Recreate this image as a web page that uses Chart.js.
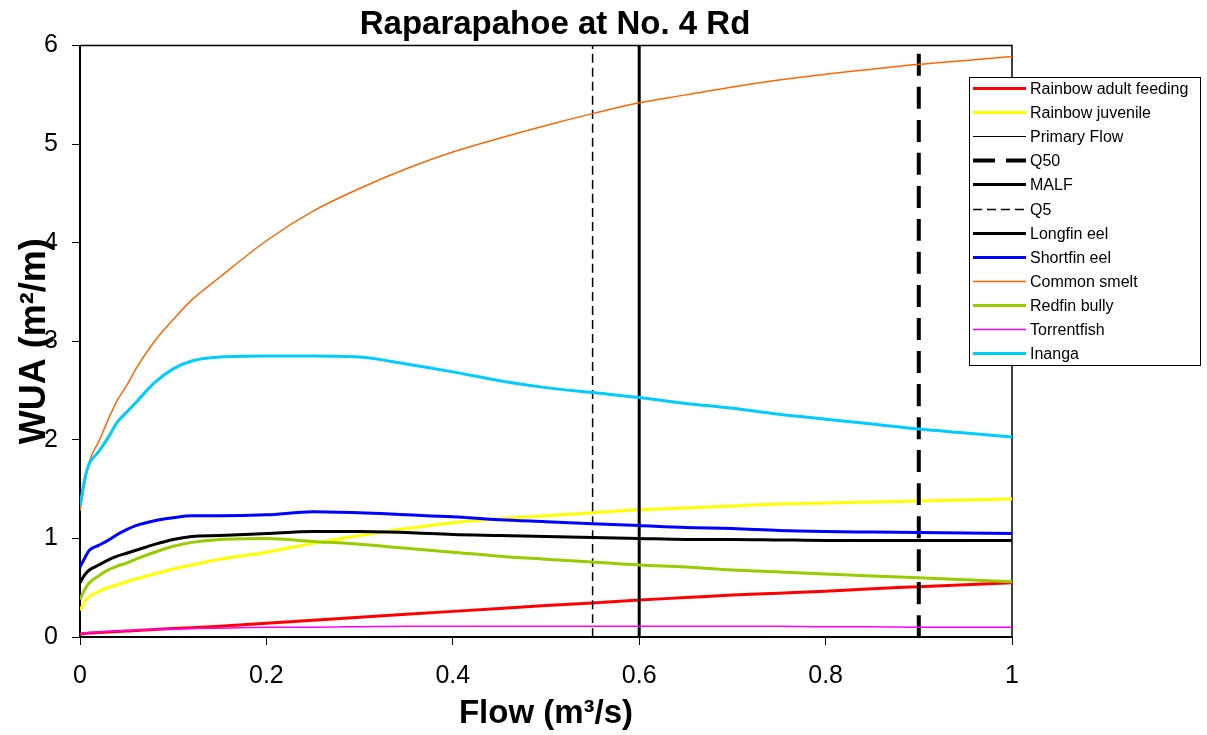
<!DOCTYPE html>
<html lang="en">
<head>
<meta charset="UTF-8">
<title>Raparapahoe at No. 4 Rd</title>
<script src="https://cdn.jsdelivr.net/npm/chart.js@4.4.1/dist/chart.umd.min.js"></script>
<style>
  html, body { margin: 0; padding: 0; background: #fff; }
  #wrap { width: 1207px; height: 735px; }
</style>
</head>
<body>
<div id="wrap"><canvas id="chartWua" width="1207" height="735"></canvas></div>
<script>
    // Flow values (m3/s) that every habitat curve is sampled at
    var flow = [0, 0.005, 0.01, 0.02, 0.03, 0.04, 0.05, 0.06, 0.08, 0.1, 0.12, 0.15, 0.2, 0.25, 0.3,
        0.35, 0.4, 0.45, 0.5, 0.55, 0.6, 0.65, 0.7, 0.75, 0.8, 0.85, 0.9, 0.95, 1.0];

    // WUA (m2/m) per species
    var rainbowAdult = [0.03, 0.035, 0.04, 0.045, 0.05, 0.055, 0.06, 0.065, 0.075, 0.085, 0.095, 0.11, 0.14, 0.17, 0.2,
        0.23, 0.26, 0.29, 0.32, 0.345, 0.375, 0.4, 0.425, 0.445, 0.465, 0.49, 0.51, 0.53, 0.55];
    var rainbowJuvenile = [0.27, 0.36, 0.41, 0.46, 0.5, 0.53, 0.56, 0.59, 0.64, 0.69, 0.73, 0.79, 0.86, 0.95, 1.03,
        1.1, 1.16, 1.2, 1.23, 1.26, 1.29, 1.31, 1.33, 1.35, 1.36, 1.37, 1.38, 1.39, 1.4];
    var longfinEel = [0.55, 0.63, 0.68, 0.73, 0.78, 0.82, 0.85, 0.88, 0.94, 0.99, 1.02, 1.03, 1.05, 1.07, 1.07,
        1.06, 1.04, 1.03, 1.02, 1.01, 1.0, 0.99, 0.99, 0.985, 0.98, 0.98, 0.98, 0.98, 0.98];
    var shortfinEel = [0.71, 0.8, 0.88, 0.93, 0.98, 1.04, 1.09, 1.13, 1.18, 1.21, 1.23, 1.23, 1.24, 1.27, 1.26,
        1.24, 1.22, 1.19, 1.17, 1.15, 1.13, 1.11, 1.1, 1.08, 1.07, 1.065, 1.06, 1.055, 1.05];
    var commonSmelt = [1.28, 1.55, 1.78, 1.98, 2.2, 2.4, 2.55, 2.72, 3.0, 3.22, 3.42, 3.65, 4.02, 4.32, 4.55,
        4.75, 4.92, 5.06, 5.19, 5.31, 5.42, 5.5, 5.58, 5.65, 5.71, 5.76, 5.81, 5.85, 5.89];
    var redfinBully = [0.38, 0.48, 0.55, 0.62, 0.68, 0.72, 0.75, 0.79, 0.86, 0.92, 0.96, 0.99, 1.0, 0.97, 0.94,
        0.9, 0.86, 0.82, 0.79, 0.76, 0.73, 0.71, 0.68, 0.66, 0.64, 0.62, 0.6, 0.58, 0.56];
    var torrentfish = [0.03, 0.04, 0.045, 0.05, 0.055, 0.06, 0.065, 0.07, 0.075, 0.08, 0.085, 0.09, 0.1, 0.1, 0.105,
        0.11, 0.11, 0.11, 0.11, 0.11, 0.11, 0.11, 0.11, 0.11, 0.105, 0.105, 0.1, 0.1, 0.1];
    var inanga = [1.33, 1.6, 1.76, 1.88, 2.02, 2.18, 2.28, 2.38, 2.58, 2.72, 2.8, 2.84, 2.85, 2.85, 2.84,
        2.77, 2.69, 2.6, 2.53, 2.48, 2.43, 2.37, 2.32, 2.26, 2.21, 2.16, 2.11, 2.07, 2.03];

    // Reference flows (m3/s)
    var primaryFlow = 0.6;
    var q50 = 0.9;
    var malf = 0.6;
    var q5 = 0.55;

    // Axis ticks
    var yMin = 0, yMax = 6, yStep = 1;
    var xMin = 0, xMax = 1, xStep = 0.2;

    var arial = "'Liberation Sans', Arial, sans-serif";

    function curve(values) {
        return flow.map(function (f, i) { return { x: f, y: values[i] }; });
    }

    function vertical(at) {
        return [{ x: at, y: yMin }, { x: at, y: yMax }];
    }

    var datasets = [
        { label: 'Rainbow adult feeding', data: curve(rainbowAdult), borderColor: '#FF0000', borderWidth: 3 },
        { label: 'Rainbow juvenile', data: curve(rainbowJuvenile), borderColor: '#FFFF00', borderWidth: 3 },
        { label: 'Primary Flow', data: vertical(primaryFlow), borderColor: '#000000', borderWidth: 1 },
        { label: 'Q50', data: vertical(q50), borderColor: '#000000', borderWidth: 4, borderDash: [22, 11] },
        { label: 'MALF', data: vertical(malf), borderColor: '#000000', borderWidth: 3 },
        { label: 'Q5', data: vertical(q5), borderColor: '#000000', borderWidth: 1.5, borderDash: [9, 5] },
        { label: 'Longfin eel', data: curve(longfinEel), borderColor: '#000000', borderWidth: 3 },
        { label: 'Shortfin eel', data: curve(shortfinEel), borderColor: '#0000FF', borderWidth: 3 },
        { label: 'Common smelt', data: curve(commonSmelt), borderColor: '#FF6600', borderWidth: 1.5 },
        { label: 'Redfin bully', data: curve(redfinBully), borderColor: '#99CC00', borderWidth: 3 },
        { label: 'Torrentfish', data: curve(torrentfish), borderColor: '#FF00FF', borderWidth: 1.5 },
        { label: 'Inanga', data: curve(inanga), borderColor: '#00CCFF', borderWidth: 3 }
    ];

    // later series sit on top of earlier ones
    datasets.forEach(function (ds, i) {
        ds.order = datasets.length - i;
        ds.pointRadius = 0;
        ds.fill = false;
        ds.cubicInterpolationMode = 'monotone';
        ds.borderCapStyle = 'butt';
    });

    // top and right edges of the plot box
    var plotBox = {
        id: 'plotBox',
        beforeDatasetsDraw: function (chart) {
            var a = chart.chartArea, ctx = chart.ctx;
            ctx.save();
            ctx.strokeStyle = '#000';
            ctx.lineWidth = 1.5;
            ctx.beginPath();
            ctx.moveTo(a.left, a.top);
            ctx.lineTo(a.right, a.top);
            ctx.lineTo(a.right, a.bottom);
            ctx.stroke();
            ctx.restore();
        }
    };

    // boxed legend on the right, overlapping the plot edge
    var boxLegend = {
        id: 'boxLegend',
        afterDraw: function (chart) {
            var ctx = chart.ctx;
            var left = 969, top = 77, width = 231, height = 288;
            var rowH = 24.1, first = top + 11;
            ctx.save();
            ctx.fillStyle = '#fff';
            ctx.fillRect(left, top, width, height);
            ctx.strokeStyle = '#000';
            ctx.lineWidth = 1;
            ctx.strokeRect(left + 0.5, top + 0.5, width, height);
            ctx.font = '16px ' + arial;
            ctx.textBaseline = 'middle';
            chart.data.datasets.forEach(function (ds, i) {
                var y = Math.round(first + i * rowH) + 0.5;
                ctx.beginPath();
                ctx.strokeStyle = ds.borderColor;
                ctx.lineWidth = ds.borderWidth;
                ctx.setLineDash(ds.borderDash || []);
                ctx.moveTo(973, y);
                ctx.lineTo(1026, y);
                ctx.stroke();
                ctx.setLineDash([]);
                ctx.fillStyle = '#000';
                ctx.fillText(ds.label, 1030, y + 1);
            });
            ctx.restore();
        }
    };

    var wua = document.getElementById('chartWua').getContext('2d');

    var chartWua = new Chart(wua, {
        type: 'line',
        data: { datasets: datasets },
        plugins: [plotBox, boxLegend],
        options: {
            responsive: false,
            animation: false,
            layout: { padding: { right: 97 } },
            plugins: {
                legend: { display: false },
                tooltip: { enabled: false },
                title: {
                    display: true,
                    text: 'Raparapahoe at No. 4 Rd',
                    color: '#000',
                    font: { family: arial, size: 33, weight: 'bold' },
                    padding: { top: 5, bottom: 1 }
                }
            },
            scales: {
                x: {
                    type: 'linear',
                    min: xMin,
                    max: xMax,
                    grid: { drawOnChartArea: false, tickLength: 8, color: '#000', tickWidth: 1 },
                    border: { color: '#000', width: 2 },
                    ticks: {
                        stepSize: xStep,
                        color: '#000',
                        padding: 16,
                        maxRotation: 0,
                        font: { family: arial, size: 25 },
                        callback: function (v) { return +v.toFixed(1); }
                    },
                    title: {
                        display: true,
                        text: 'Flow (m³/s)',
                        color: '#000',
                        font: { family: arial, size: 33, weight: 'bold' },
                        padding: { top: 0, bottom: 1 }
                    },
                    afterFit: function (s) { s.height = 98; }
                },
                y: {
                    type: 'linear',
                    min: yMin,
                    max: yMax,
                    grid: { drawOnChartArea: false, tickLength: 8, color: '#000', tickWidth: 1 },
                    border: { color: '#000', width: 2 },
                    ticks: {
                        stepSize: yStep,
                        color: '#000',
                        padding: 14,
                        font: { family: arial, size: 25 }
                    },
                    title: {
                        display: true,
                        text: 'WUA (m²/m)',
                        color: '#000',
                        font: { family: arial, size: 36, weight: 'bold' },
                        padding: { top: 13, bottom: 0 }
                    },
                    afterFit: function (s) { s.width = 80; }
                },
                // empty right-hand axis that keeps room for the legend
                side: {
                    type: 'linear',
                    position: 'right',
                    grid: { display: false },
                    border: { display: false },
                    ticks: { display: false },
                    afterFit: function (s) { s.width = 98; }
                }
            }
        }
    });
</script>
</body>
</html>
